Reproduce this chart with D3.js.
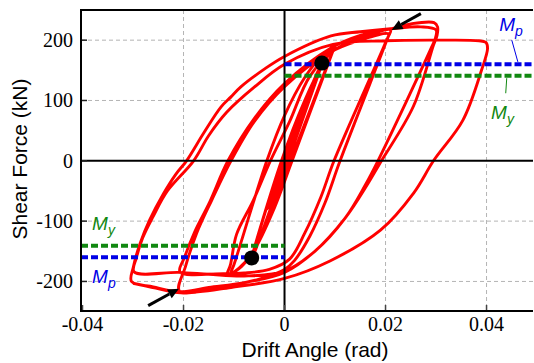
<!DOCTYPE html>
<html>
<head>
<meta charset="utf-8">
<script src="https://cdn.jsdelivr.net/npm/d3@7"></script>
<style>
  body { margin: 0; background: #fff; }
  svg { display: block; }
  .serif { font-family: "Liberation Serif", "Times New Roman", Times, "DejaVu Serif", serif; }
  .sans { font-family: "Liberation Sans", Arial, Helvetica, sans-serif; }
</style>
</head>
<body>
<div id="chart"></div>
<script>
// hysteresis record, [drift (rad), shear (kN)], one array per amplitude group
const elastic = [[0,0],[0.0035,80],[0.0004,2],[-0.0033,-78],[-0.0003,-2],[0.0036,82],[0.0004,2],[-0.0034,-80],[0,0]];
const cycle0075 = [[0,0],[0.0074,161],[0.0007,2],[-0.0064,-161],[-0.0006,-2],[0.0074,163],[0.0008,3],[-0.0065,-162],[-0.0006,0]];
const cycle010 = [[-0.0006,0],[0.004,100],[0.0075,160],[0.0098,188],[0.0093,177],[0.0012,0],[-0.002,-70],[-0.0055,-140],
  [-0.0085,-175],[-0.0106,-186],[-0.0100,-172],[-0.0035,0],[0.0,75],[0.004,138],[0.0075,175],[0.0100,190],[0.0094,178],
  [0.0015,0],[-0.002,-78],[-0.006,-148],[-0.009,-178],[-0.0114,-190],[-0.0107,-172],[-0.0095,-122],[-0.0062,-66],[-0.0028,0]];
const cycle020 = [[-0.0028,0],[0.001,65],[0.005,140],[0.0098,183],[0.015,203],[0.0210,217],[0.0204,203],[0.0110,0],
  [0.008,-70],[0.005,-125],[0.002,-165],[0,-180],[-0.005,-196],[-0.012,-208],[-0.0208,-216],[-0.0196,-175],[-0.0174,-120],
  [-0.0144,-65],[-0.0106,0],[-0.006,65],[0,123],[0.0086,178],[0.015,200],[0.0206,210],[0.0200,196],[0.0098,0],
  [0.0072,-60],[0.004,-120],[0.001,-163],[-0.003,-180],[-0.008,-186],[-0.0121,-187],[-0.0207,-184]];
const cycle030 = [[-0.0207,-184],[-0.0198,-160],[-0.0178,-118],[-0.0148,-68],[-0.0112,0],[-0.006,70],[0,128],[0.0092,187],
  [0.015,208],[0.0212,219],[0.025,227],[0.0296,229],[0.0303,222],[0.0302,208],[0.0295,192],[0.0255,90],[0.0189,-4],
  [0.0165,-38],[0.012,-95],[0.006,-150],[0,-185],[-0.008,-202],[-0.015,-210],[-0.0207,-217],[-0.026,-209],[-0.0303,-200],
  [-0.0299,-175],[-0.0286,-137],[-0.0267,-98],[-0.024,-55],[-0.0215,-22],[-0.0194,0],[-0.016,46],[-0.0126,89],
  [-0.0106,106],[-0.0086,123],[-0.004,152],[0,173],[0.0092,207],[0.015,214],[0.021,219],[0.027,222],[0.0300,217],
  [0.0299,204],[0.0291,188],[0.0185,0],[0.016,-40],[0.012,-95],[0.006,-150],[0,-183],[-0.008,-191],[-0.015,-188],
  [-0.021,-185],[-0.0298,-184]];
const cycle040 = [[-0.0298,-184],[-0.0293,-160],[-0.0281,-128],[-0.026,-92],[-0.0232,-50],[-0.018,0],[-0.015,42],
  [-0.0115,80],[-0.006,122],[0,160],[0.0096,193],[0.02,199],[0.03,200],[0.0385,199],[0.0399,196],[0.0402,186],
  [0.039,150],[0.0353,67],[0.0295,0],[0.0256,-53],[0.019,-115],[0.009,-166],[0,-195],[-0.0106,-210],[-0.0205,-219],
  [-0.0255,-211],[-0.0300,-203]];

const yieldPoints = [[0.0074, 162], [-0.0065, -161]];
const Mp = 160;
const My = 141;

const xTicks = [-0.04, -0.02, 0, 0.02, 0.04];
const yTicks = [-200, -100, 0, 100, 200];
const xGrid = [-0.02, 0.02, 0.04];
const yGrid = [-200, -100, 100, 200];

// buckling arrows: [tail, tip]
const arrows = [
  [[0.0270, 244], [0.0212, 217]],
  [[-0.0270, -240], [-0.0209, -212]]
];

const width = 534, height = 363;
const svg = d3.select("#chart").append("svg")
  .attr("width", width)
  .attr("height", height);

const x = d3.scaleLinear().domain([-0.0403, 0.0492]).range([81, 533]);
const y = d3.scaleLinear().domain([-249, 250]).range([311, 10]);

// grid
svg.append("g").selectAll("line")
  .data(xGrid)
  .join("line")
  .attr("x1", d => x(d)).attr("x2", d => x(d))
  .attr("y1", y.range()[1]).attr("y2", y.range()[0])
  .attr("stroke", "#b4b4b4").attr("stroke-width", 1).attr("stroke-dasharray", "4,3");

svg.append("g").selectAll("line")
  .data(yGrid)
  .join("line")
  .attr("x1", x.range()[0]).attr("x2", x.range()[1])
  .attr("y1", d => y(d)).attr("y2", d => y(d))
  .attr("stroke", "#b4b4b4").attr("stroke-width", 1).attr("stroke-dasharray", "4,3");

// hysteresis curve
const stages = [elastic, cycle0075, cycle010, cycle020, cycle030, cycle040];
const record = stages.flatMap((s, i) => i ? s.slice(1) : s);

const line = d3.line()
  .x(d => x(d[0]))
  .y(d => y(d[1]))
  .curve(d3.curveCatmullRom.alpha(0.5));

svg.append("path")
  .datum(record)
  .attr("fill", "none")
  .attr("stroke", "#ff0000")
  .attr("stroke-width", 2.9)
  .attr("stroke-linejoin", "round")
  .attr("d", line);

// zero lines
svg.append("line")
  .attr("x1", x.range()[0]).attr("x2", x.range()[1])
  .attr("y1", y(0)).attr("y2", y(0))
  .attr("stroke", "#000").attr("stroke-width", 2);
svg.append("line")
  .attr("x1", x(0)).attr("x2", x(0))
  .attr("y1", y.range()[1]).attr("y2", y.range()[0])
  .attr("stroke", "#000").attr("stroke-width", 2);

// Mp / My levels
const levels = [
  {v: My, x0: 0, x1: x.domain()[1], c: "#118811"},
  {v: Mp, x0: 0, x1: x.domain()[1], c: "#0000e6"},
  {v: -My, x0: x.domain()[0], x1: 0, c: "#118811"},
  {v: -Mp, x0: x.domain()[0], x1: 0, c: "#0000e6"}
];
svg.append("g").selectAll("line")
  .data(levels)
  .join("line")
  .attr("x1", d => x(d.x0)).attr("x2", d => x(d.x1))
  .attr("y1", d => y(d.v)).attr("y2", d => y(d.v))
  .attr("stroke", d => d.c).attr("stroke-width", 4).attr("stroke-dasharray", "7,3");

// yield dots
svg.append("g").selectAll("circle")
  .data(yieldPoints)
  .join("circle")
  .attr("cx", d => x(d[0]))
  .attr("cy", d => y(d[1]))
  .attr("r", 7.5)
  .attr("fill", "#000");

// arrows
arrows.forEach(([tail, tip]) => {
  const x0 = x(tail[0]), y0 = y(tail[1]), x1 = x(tip[0]), y1 = y(tip[1]);
  const ang = Math.atan2(y1 - y0, x1 - x0);
  const len = 11, hw = 5;
  const bx = x1 - len * Math.cos(ang), by = y1 - len * Math.sin(ang);
  svg.append("line")
    .attr("x1", x0).attr("y1", y0).attr("x2", bx).attr("y2", by)
    .attr("stroke", "#000").attr("stroke-width", 3);
  svg.append("path")
    .attr("d", `M${x1},${y1}L${bx + hw * Math.sin(ang)},${by - hw * Math.cos(ang)}L${bx - hw * Math.sin(ang)},${by + hw * Math.cos(ang)}Z`)
    .attr("fill", "#000");
});

// M labels
function mLabel(px, py, sub, color) {
  const t = svg.append("text")
    .attr("class", "sans")
    .attr("x", px).attr("y", py)
    .attr("fill", color)
    .style("font-style", "italic")
    .style("font-size", "19px");
  t.append("tspan").text("M");
  t.append("tspan").attr("dy", 5).style("font-size", "14px").text(sub);
}
mLabel(x(0.0425), y(216), "p", "#0000e6");
mLabel(x(0.0409), y(70), "y", "#118811");
mLabel(x(-0.0381), y(-114), "y", "#118811");
mLabel(x(-0.0381), y(-203), "p", "#0000e6");

// leader lines
svg.append("line")
  .attr("x1", x(0.0450)).attr("y1", y(200))
  .attr("x2", x(0.0462)).attr("y2", y(164))
  .attr("stroke", "#0000e6").attr("stroke-width", 1);
svg.append("line")
  .attr("x1", x(0.0440)).attr("y1", y(137))
  .attr("x2", x(0.0438)).attr("y2", y(112))
  .attr("stroke", "#118811").attr("stroke-width", 1);

// ticks
svg.append("g").selectAll("line")
  .data(yTicks)
  .join("line")
  .attr("x1", x.range()[0]).attr("x2", x.range()[0] + 6)
  .attr("y1", d => y(d)).attr("y2", d => y(d))
  .attr("stroke", "#222").attr("stroke-width", 1.5);
svg.append("g").selectAll("line")
  .data(xTicks)
  .join("line")
  .attr("x1", d => x(d)).attr("x2", d => x(d))
  .attr("y1", y.range()[0]).attr("y2", y.range()[0] - 6)
  .attr("stroke", "#444").attr("stroke-width", 1.5);

// tick labels
svg.append("g").selectAll("text")
  .data(yTicks)
  .join("text")
  .attr("class", "serif")
  .attr("x", x.range()[0] - 8)
  .attr("y", d => y(d))
  .attr("dy", "0.35em")
  .attr("text-anchor", "end")
  .style("font-size", "20px")
  .text(d => d);
svg.append("g").selectAll("text")
  .data(xTicks)
  .join("text")
  .attr("class", "serif")
  .attr("x", d => x(d))
  .attr("y", 331)
  .attr("text-anchor", "middle")
  .style("font-size", "20px")
  .text(d => d === 0 ? "0" : d.toFixed(2));

// frame
svg.append("path")
  .attr("d", `M${x.range()[1]},${y.range()[1]}H${x.range()[0]}V${y.range()[0]}H${x.range()[1]}`)
  .attr("fill", "none")
  .attr("stroke", "#000")
  .attr("stroke-width", 2);

// axis titles
svg.append("text")
  .attr("class", "sans")
  .attr("x", 315)
  .attr("y", 357)
  .attr("text-anchor", "middle")
  .style("font-size", "21px")
  .text("Drift Angle (rad)");

svg.append("text")
  .attr("class", "sans")
  .attr("transform", "translate(27,159) rotate(-90)")
  .attr("text-anchor", "middle")
  .style("font-size", "21px")
  .text("Shear Force (kN)");
</script>
</body>
</html>
